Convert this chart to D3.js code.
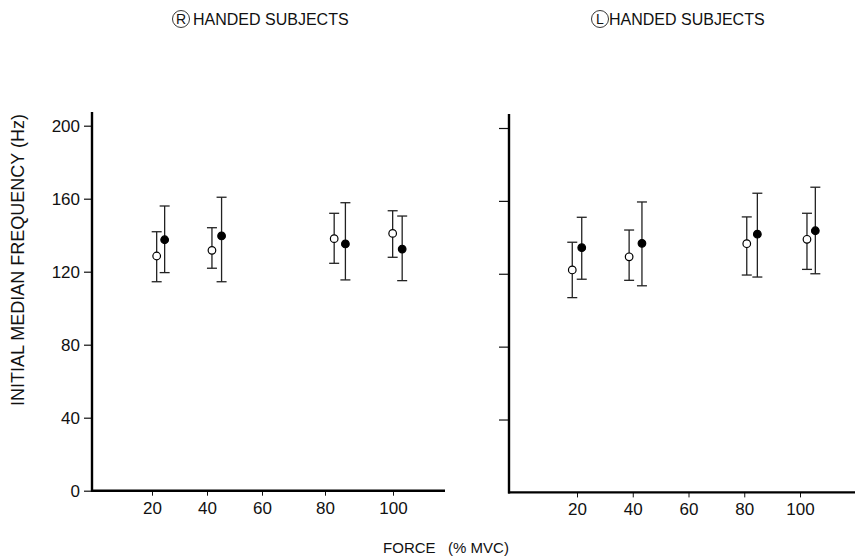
<!DOCTYPE html>
<html>
<head>
<meta charset="utf-8">
<script src="https://cdn.jsdelivr.net/npm/d3@7"></script>
<style>
  body { margin: 0; background: #fff; }
  svg text { font-family: "Liberation Sans", Arial, "DejaVu Sans", sans-serif; fill: #111; }
</style>
</head>
<body>
<div id="chart"></div>
<script>
// force levels (% MVC) and frequency ticks
const forceTicks = [20, 40, 60, 80, 100]
const freqTicks = [0, 40, 80, 120, 160, 200]

// right handed subjects: open circles
const rOpenForce  = [21.7, 41.8, 82.7, 99.9]
const rOpenMedian = [128.6, 131.7, 138.1, 141.0]
const rOpenLow    = [114.5, 121.9, 124.6, 127.9]
const rOpenHigh   = [141.9, 144.1, 152.0, 153.4]
// right handed subjects: filled circles
const rFilledForce  = [24.6, 45.3, 86.0, 102.7]
const rFilledMedian = [137.5, 139.6, 135.2, 132.4]
const rFilledLow    = [119.5, 114.5, 115.5, 115.1]
const rFilledHigh   = [156.0, 160.8, 157.8, 150.5]

// left handed subjects: open circles
const lOpenForce  = [18.3, 38.7, 80.9, 102.5]
const lOpenMedian = [122.1, 129.3, 136.5, 138.9]
const lOpenLow    = [106.9, 116.4, 119.3, 122.4]
const lOpenHigh   = [137.3, 144.0, 151.2, 153.2]
// left handed subjects: filled circles
const lFilledForce  = [21.7, 43.3, 84.7, 105.5]
const lFilledMedian = [134.3, 136.7, 141.7, 143.6]
const lFilledLow    = [117.0, 113.4, 118.2, 120.0]
const lFilledHigh   = [151.0, 159.4, 164.2, 167.5]

const width = 855, height = 560

const svg = d3.select("#chart").append("svg")
    .attr("width", width).attr("height", height)
    .attr("viewBox", [0, 0, width, height])

const toRows = (f, m, lo, hi) => f.map((d, i) => ({force: d, median: m[i], low: lo[i], high: hi[i]}))

// panel layout, the printed x axis of the left panel is not evenly spaced
const panels = [
  {
    hand: "R", titleX: 181, gap: 12,
    x: d3.scaleLinear().domain(forceTicks).range([152, 207, 262, 325, 393]),
    y: d3.scaleLinear().domain([0, 200]).range([490.7, 125.7]),
    axisX: 92, axisTop: 112, axisRight: 445, tickLen: 8, labels: true,
    open: toRows(rOpenForce, rOpenMedian, rOpenLow, rOpenHigh),
    filled: toRows(rFilledForce, rFilledMedian, rFilledLow, rFilledHigh)
  },
  {
    hand: "L", titleX: 600, gap: 9,
    x: d3.scaleLinear().domain([20, 100]).range([577, 800]),
    y: d3.scaleLinear().domain([0, 200]).range([492.4, 128]),
    axisX: 509, axisTop: 114, axisRight: 855, tickLen: 10, labels: false,
    open: toRows(lOpenForce, lOpenMedian, lOpenLow, lOpenHigh),
    filled: toRows(lFilledForce, lFilledMedian, lFilledLow, lFilledHigh)
  }
]

panels.forEach(p => {
  const g = svg.append("g")
  const y0 = p.y(0)

  // circled hand letter + title
  const t = g.append("g").attr("transform", `translate(${p.titleX},19)`)
  t.append("circle").attr("r", 8.5).attr("fill", "none").attr("stroke", "#222").attr("stroke-width", 0.9)
  t.append("text").attr("y", 5).attr("text-anchor", "middle").attr("font-size", 14).text(p.hand)
  t.append("text").attr("x", p.gap).attr("y", 6).attr("font-size", 16).text("HANDED SUBJECTS")

  // y axis
  const ya = g.append("g")
      .attr("transform", `translate(${p.axisX},0)`)
      .call(d3.axisLeft(p.y).tickValues(p.labels ? freqTicks : freqTicks.slice(1))
              .tickSize(p.tickLen).tickPadding(4)
              .tickFormat(p.labels ? d3.format("d") : ""))
  ya.select(".domain").remove()
  ya.selectAll("line").attr("stroke", "#111").attr("stroke-width", 1.2)
  ya.selectAll("text").attr("font-size", 17).attr("fill", "#111").attr("font-family", null)

  // x axis
  const xa = g.append("g")
      .attr("transform", `translate(0,${y0})`)
      .call(d3.axisBottom(p.x).tickValues(forceTicks).tickSize(5).tickPadding(6))
  xa.select(".domain").remove()
  xa.selectAll("line").attr("stroke", "#111").attr("stroke-width", 1)
  xa.selectAll("text").attr("font-size", 17).attr("fill", "#111").attr("font-family", null)

  // heavy axis lines
  g.append("line")
      .attr("x1", p.axisX).attr("x2", p.axisX)
      .attr("y1", p.axisTop).attr("y2", y0 + 1)
      .attr("stroke", "#000").attr("stroke-width", 2.4)
  g.append("line")
      .attr("x1", p.axisX - 1).attr("x2", p.axisRight)
      .attr("y1", y0).attr("y2", y0)
      .attr("stroke", "#000").attr("stroke-width", 2.4)

  const drawSeries = (rows, filled) => {
    const s = g.append("g")
    s.selectAll(".bar").data(rows).join("line")
        .attr("x1", d => p.x(d.force)).attr("x2", d => p.x(d.force))
        .attr("y1", d => p.y(d.low)).attr("y2", d => p.y(d.high))
        .attr("stroke", "#222").attr("stroke-width", 1.3)
    ;["low", "high"].forEach(k => {
      s.selectAll(".cap-" + k).data(rows).join("line")
          .attr("x1", d => p.x(d.force) - 5).attr("x2", d => p.x(d.force) + 5)
          .attr("y1", d => p.y(d[k])).attr("y2", d => p.y(d[k]))
          .attr("stroke", "#222").attr("stroke-width", 1.3)
    })
    s.selectAll("circle").data(rows).join("circle")
        .attr("cx", d => p.x(d.force)).attr("cy", d => p.y(d.median))
        .attr("r", 3.8)
        .attr("fill", filled ? "#000" : "#fff")
        .attr("stroke", "#000").attr("stroke-width", 1.2)
  }
  drawSeries(p.open, false)
  drawSeries(p.filled, true)
})

svg.append("text")
    .attr("transform", "translate(24,260) rotate(-90)")
    .attr("text-anchor", "middle")
    .attr("font-size", 18)
    .text("INITIAL MEDIAN FREQUENCY (Hz)")

svg.append("text")
    .attr("x", 446).attr("y", 553)
    .attr("text-anchor", "middle")
    .attr("font-size", 15)
    .attr("xml:space", "preserve")
    .text("FORCE   (% MVC)")
</script>
</body>
</html>
